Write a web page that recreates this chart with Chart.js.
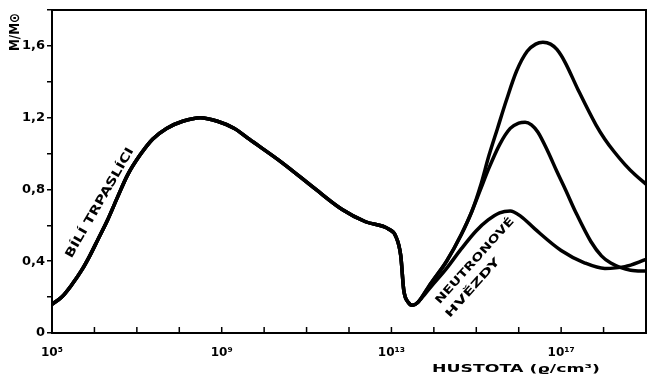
<!DOCTYPE html>
<html>
<head>
<meta charset="utf-8">
<script src="https://cdn.jsdelivr.net/npm/chart.js@4"></script>
<style>
html, body { margin: 0; padding: 0; background: #fff; }
</style>
</head>
<body>
<canvas id="chart" width="651" height="380"></canvas>
<script>
// log10 of density (g/cm3) and mass in solar masses
const wdRho  = [5.00, 5.23, 5.47, 5.70, 5.89, 6.08, 6.31, 6.55, 6.78, 7.07, 7.37, 7.70, 8.08, 8.50, 8.90, 9.30, 9.65, 10.42, 11.22, 11.83, 12.39, 12.93, 13.10, 13.22, 13.29, 13.40, 13.50];
const wdMass = [0.16, 0.20, 0.27, 0.35, 0.43, 0.52, 0.63, 0.76, 0.88, 0.99, 1.08, 1.14, 1.18, 1.20, 1.18, 1.14, 1.08, 0.95, 0.80, 0.69, 0.62, 0.58, 0.54, 0.43, 0.24, 0.17, 0.155];

const nsRhoA  = [13.62, 13.80, 13.94, 14.30, 14.65, 15.00, 15.28, 15.55, 15.80, 16.05, 16.38, 17.00, 17.56, 18.03, 18.50, 19.0];
const nsMassA = [0.17, 0.22, 0.26, 0.36, 0.47, 0.57, 0.63, 0.67, 0.68, 0.65, 0.58, 0.46, 0.39, 0.36, 0.37, 0.41];

const nsRhoB  = [13.62, 13.80, 13.94, 14.30, 14.65, 14.90, 15.10, 15.30, 15.55, 15.80, 16.00, 16.15, 16.30, 16.45, 16.69, 16.90, 17.10, 17.35, 17.70, 17.95, 18.17, 18.64, 19.0];
const nsMassB = [0.17, 0.23, 0.28, 0.40, 0.55, 0.68, 0.80, 0.92, 1.05, 1.14, 1.17, 1.175, 1.16, 1.12, 1.01, 0.90, 0.80, 0.67, 0.51, 0.43, 0.39, 0.35, 0.345];

const nsRhoC  = [13.62, 13.80, 13.94, 14.30, 14.65, 14.90, 15.10, 15.30, 15.50, 15.70, 15.95, 16.20, 16.40, 16.57, 16.75, 16.90, 17.09, 17.39, 17.82, 18.03, 18.25, 18.50, 18.75, 19.0];
const nsMassC = [0.17, 0.23, 0.28, 0.40, 0.55, 0.68, 0.82, 0.99, 1.14, 1.29, 1.46, 1.57, 1.61, 1.62, 1.61, 1.58, 1.51, 1.36, 1.16, 1.08, 1.01, 0.94, 0.88, 0.83];

const xLabels = {5: "10⁵", 9: "10⁹", 13: "10¹³", 17: "10¹⁷"};
const yLabels = {0: "0", 4: "0,4", 8: "0,8", 12: "1,2", 16: "1,6"};

const pts = (xs, ys) => xs.map((v, i) => ({x: v, y: ys[i]}));
// each branch continues the white dwarf curve so the minimum stays smooth
const branch = (xs, ys) => pts(wdRho.concat(xs), wdMass.concat(ys));

Chart.defaults.font.family = '"DejaVu Sans", sans-serif';
Chart.defaults.font.weight = 'bold';
Chart.defaults.color = '#000';

function rotText(ctx, text, cx, cy, angle, len, size) {
    ctx.save();
    ctx.translate(cx, cy);
    ctx.rotate(angle * Math.PI / 180);
    ctx.font = 'bold ' + size + 'px "DejaVu Sans"';
    const w = ctx.measureText(text).width;
    ctx.scale(len / w, 1);
    ctx.textAlign = 'center';
    ctx.textBaseline = 'middle';
    ctx.fillText(text, 0, 0);
    ctx.restore();
}

const frame = {
    id: 'frame',
    afterDraw(chart) {
        const ctx = chart.ctx, a = chart.chartArea, x = chart.scales.x;
        ctx.save();
        ctx.strokeStyle = '#000';
        ctx.fillStyle = '#000';
        ctx.lineWidth = 2;
        ctx.strokeRect(a.left, a.top, a.right - a.left, a.bottom - a.top);
        ctx.lineWidth = 1.5;
        x.ticks.forEach(t => {
            const px = x.getPixelForValue(t.value);
            ctx.beginPath();
            ctx.moveTo(px, a.bottom);
            ctx.lineTo(px, a.bottom - 6);
            ctx.stroke();
        });
        rotText(ctx, 'BÍLÍ TRPASLÍCI', 100, 203, -60, 125, 12);
        rotText(ctx, 'NEUTRONOVÉ', 475, 261, -48, 112, 11);
        rotText(ctx, 'HVĚZDY', 473, 288, -48, 76, 11);
        rotText(ctx, 'M/M⊙', 15, 32, -90, 38, 14);
        ctx.font = 'bold 11px "DejaVu Sans"';
        const t = 'HUSTOTA (ϱ/cm³)';
        const w = ctx.measureText(t).width;
        ctx.translate(432, 369);
        ctx.scale(168 / w, 1);
        ctx.textBaseline = 'middle';
        ctx.fillText(t, 0, 0);
        ctx.restore();
    }
};

const line = (data) => ({
    data: data,
    borderColor: '#000',
    borderWidth: 3.5,
    pointRadius: 0,
    fill: false,
    cubicInterpolationMode: 'monotone'
});

new Chart(document.getElementById('chart'), {
    type: 'line',
    data: {
        datasets: [
            line(branch(nsRhoA, nsMassA)),
            line(branch(nsRhoB, nsMassB)),
            line(branch(nsRhoC, nsMassC))
        ]
    },
    options: {
        responsive: false,
        animation: false,
        layout: {padding: {top: 10, right: 3, left: 0, bottom: 0}},
        plugins: {legend: {display: false}, tooltip: {enabled: false}},
        scales: {
            x: {
                type: 'linear',
                min: 5, max: 19,
                afterFit: s => { s.height = 47; },
                border: {display: false},
                grid: {display: false},
                ticks: {
                    stepSize: 1,
                    autoSkip: false,
                    maxRotation: 0,
                    padding: 5,
                    font: {size: 12, weight: 'bold'},
                    callback: v => xLabels[Math.round(v)] || ''
                }
            },
            y: {
                min: 0, max: 1.8,
                afterFit: s => { s.width = 52; },
                border: {display: false},
                grid: {drawOnChartArea: false, tickLength: 5, color: '#000', lineWidth: 1.5},
                ticks: {
                    stepSize: 0.2,
                    padding: 2,
                    font: {size: 13, weight: 'bold'},
                    callback: v => yLabels[Math.round(v * 10)] || ''
                }
            }
        }
    },
    plugins: [frame]
});
</script>
</body>
</html>
